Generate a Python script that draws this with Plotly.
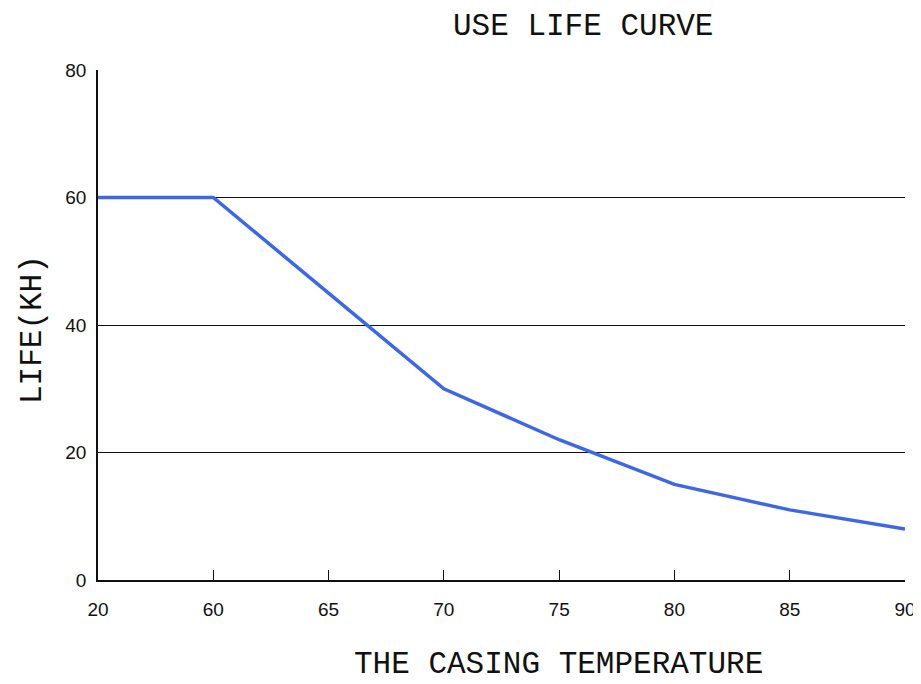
import plotly.graph_objects as go

temperature = ["20", "60", "65", "70", "75", "80", "85", "90"]
life_kh = [60, 60, 45, 30, 22, 15, 11, 8]
y_ticks = [0, 20, 40, 60, 80]

title_font = dict(family="Liberation Mono, DejaVu Sans Mono, monospace", size=31, color="#111")
tick_font = dict(family="Liberation Sans Narrow, Liberation Sans, Arial, sans-serif", size=19, color="#111")

fig = go.Figure()
fig.add_trace(go.Scatter(
    x=temperature, y=life_kh, mode="lines",
    line=dict(color="#3d67e6", width=3.5),
    showlegend=False, hoverinfo="x+y",
))

fig.update_layout(
    width=913, height=676,
    margin=dict(l=90, r=16, t=62, b=104, autoexpand=False),
    paper_bgcolor="white", plot_bgcolor="white",
    xaxis=dict(
        type="category", range=[0, 7], automargin=False,
        showgrid=False, showline=True, linecolor="#111", linewidth=1.5,
        ticks="inside", ticklen=10, tickcolor="#111", tickwidth=1,
        tickfont=tick_font, ticklabelstandoff=11,
    ),
    yaxis=dict(
        range=[0, 80], tickvals=y_ticks, automargin=False,
        showgrid=True, gridcolor="#111", gridwidth=1,
        showline=True, linecolor="#111", linewidth=1.5,
        ticks="", tickfont=tick_font, ticklabelstandoff=6,
        zeroline=False,
    ),
    annotations=[
        dict(text="USE LIFE CURVE", xref="paper", yref="paper", x=0.601, y=1.0,
             yshift=44, showarrow=False, font=title_font, xanchor="center", yanchor="middle"),
        dict(text="THE CASING TEMPERATURE", xref="paper", yref="paper", x=0.571, y=0,
             yshift=-84, showarrow=False, font=title_font, xanchor="center", yanchor="middle"),
        dict(text="LIFE(KH)", xref="paper", yref="paper", x=0, y=0.5,
             xshift=-66, yshift=-5, showarrow=False, font=title_font, textangle=-90,
             xanchor="center", yanchor="middle"),
    ],
)

fig.write_html("out.html")
